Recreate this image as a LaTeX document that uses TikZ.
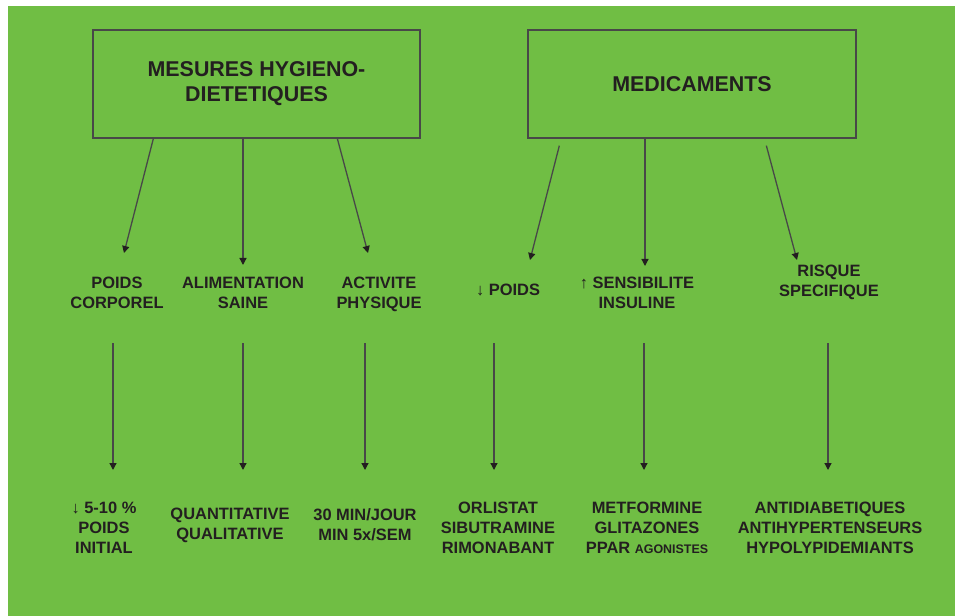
\documentclass[tikz,border=0pt]{standalone}
\usepackage{fontspec}
\setmainfont{Liberation Sans}
\usetikzlibrary{arrows.meta}
\definecolor{fond}{RGB}{112,190,68}
\definecolor{trait}{RGB}{72,72,72}
\definecolor{encre}{RGB}{35,31,32}

\begin{document}
\begin{tikzpicture}[x=1bp,y=-1bp,
  boite/.style={draw=trait,line width=1.3bp,inner sep=0pt,text=encre,align=center,
    font=\fontsize{21.5}{25}\selectfont\bfseries},
  etiq/.style={anchor=north,inner sep=0pt,text=encre,align=center,
    font=\fontsize{16.5}{20}\selectfont\bfseries},
  fleche/.style={draw=trait,line width=1.3bp,-{Triangle[length=7bp,width=7bp,color=encre]}}]

\useasboundingbox (0,0) rectangle (955,616);
\fill[white] (0,0) rectangle (955,616);
\fill[fond] (8,6) rectangle (955,616);

\node[boite,minimum width=327bp,minimum height=108bp] (mhd) at (256.5,84) {MESURES HYGIENO-\\DIETETIQUES};
\node[boite,minimum width=328bp,minimum height=108bp] (medic) at (692,84) {MEDICAMENTS};

\node[etiq] (poids) at (117,277) {POIDS\\CORPOREL};
\node[etiq] (alim) at (243,277) {ALIMENTATION\\SAINE};
\node[etiq] (activ) at (379,277) {ACTIVITE\\PHYSIQUE};
\node[etiq] (baisse) at (508,284) {↓ POIDS};
\node[etiq] (sensib) at (637,277) {↑ SENSIBILITE\\INSULINE};
\node[etiq] (risque) at (829,265) {RISQUE\\SPECIFIQUE};

\node[etiq] (objpoids) at (104,502) {↓ 5-10 \%\\POIDS\\INITIAL};
\node[etiq] (quanti) at (230,508) {QUANTITATIVE\\QUALITATIVE};
\node[etiq] (sport) at (365,508) {30 MIN/JOUR\\MIN 5x/SEM};
\node[etiq] (antiob) at (498,502) {ORLISTAT\\SIBUTRAMINE\\RIMONABANT};
\node[etiq] (insul) at (647,502) {METFORMINE\\GLITAZONES\\PPAR {\fontsize{12.5}{20}\selectfont AGONISTES}};
\node[etiq] (specif) at (830,502) {ANTIDIABETIQUES\\ANTIHYPERTENSEURS\\HYPOLYPIDEMIANTS};

\coordinate (a1) at (124,253);
\coordinate (a2) at (243,265);
\coordinate (a3) at (368,253);
\coordinate (b1) at (530,260);
\coordinate (b2) at (645,266);
\coordinate (b3) at (797,260);

\draw[fleche] ([xshift=61bp]mhd.south west) -- (a1);
\draw[fleche] (mhd.south -| a2) -- (a2);
\draw[fleche] ([xshift=245bp]mhd.south west) -- (a3);
\draw[fleche] ([xshift=32bp,yshift=-7bp]medic.south west) -- (b1);
\draw[fleche] (medic.south -| b2) -- (b2);
\draw[fleche] ([xshift=239bp,yshift=-7bp]medic.south west) -- (b3);

\coordinate (c1) at (113,343);
\coordinate (c2) at (243,343);
\coordinate (c3) at (365,343);
\coordinate (c4) at (494,343);
\coordinate (c5) at (644,343);
\coordinate (c6) at (828,343);
\coordinate (d1) at (113,470);
\coordinate (d2) at (243,470);
\coordinate (d3) at (365,470);
\coordinate (d4) at (494,470);
\coordinate (d5) at (644,470);
\coordinate (d6) at (828,470);

\foreach \i in {1,...,6}
  \draw[fleche] (c\i) -- (d\i);

\end{tikzpicture}
\end{document}
